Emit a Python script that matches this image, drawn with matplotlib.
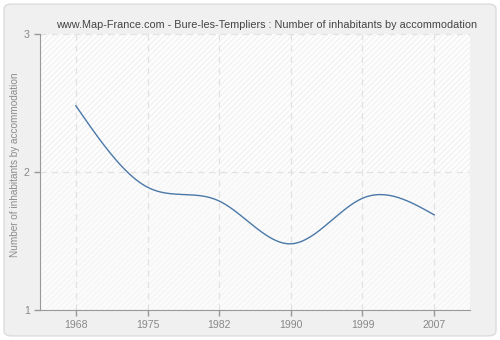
import numpy as np
import matplotlib
matplotlib.use("Agg")
import matplotlib.pyplot as plt
from matplotlib.patches import FancyBboxPatch, Rectangle

years = ["1968", "1975", "1982", "1990", "1999", "2007"]
values = [2.48, 1.89, 1.79, 1.48, 1.81, 1.69]
yticks = [1, 2, 3]

title = "www.Map-France.com - Bure-les-Templiers : Number of inhabitants by accommodation"
ylabel = "Number of inhabitants by accommodation"

plt.rcParams["font.family"] = ["Liberation Sans", "DejaVu Sans"]
plt.rcParams["hatch.linewidth"] = 0.6


def natural_spline(x, y, n=400):
    x = np.asarray(x, float)
    y = np.asarray(y, float)
    k = len(x)
    h = np.diff(x)
    A = np.zeros((k, k))
    b = np.zeros(k)
    A[0, 0] = 1
    A[-1, -1] = 1
    for i in range(1, k - 1):
        A[i, i - 1] = h[i - 1]
        A[i, i] = 2 * (h[i - 1] + h[i])
        A[i, i + 1] = h[i]
        b[i] = 3 * ((y[i + 1] - y[i]) / h[i] - (y[i] - y[i - 1]) / h[i - 1])
    c = np.linalg.solve(A, b)
    xs = np.linspace(x[0], x[-1], n)
    ys = np.empty_like(xs)
    for j, xv in enumerate(xs):
        i = min(np.searchsorted(x, xv, side="right") - 1, k - 2)
        dx = xv - x[i]
        bi = (y[i + 1] - y[i]) / h[i] - h[i] * (2 * c[i] + c[i + 1]) / 3
        di = (c[i + 1] - c[i]) / (3 * h[i])
        ys[j] = y[i] + bi * dx + c[i] * dx ** 2 + di * dx ** 3
    return xs, ys


fig = plt.figure(figsize=(5, 3.4), dpi=100)
fig.patch.set_facecolor("white")
bg = FancyBboxPatch((0.008, 0.012), 0.984, 0.976, boxstyle="round,pad=0,rounding_size=0.015",
                    transform=fig.transFigure, facecolor="#f0f0f0", edgecolor="#dcdcdc",
                    linewidth=1.0, zorder=-10)
fig.patches.append(bg)

ax = fig.add_axes([0.08, 0.088, 0.86, 0.812])
ax.set_zorder(5)
ax.set_facecolor("#fbfbfb")
x = np.arange(len(years))
ax.set_xlim(-0.5, len(years) - 0.5)
ax.set_ylim(1, 3)

# hatched backgrounds
ax.add_patch(Rectangle((-0.5, 2), len(years), 1, facecolor="#fdfdfd", edgecolor="#ededed",
                       hatch="//////", linewidth=0, zorder=0))
ax.add_patch(Rectangle((-0.5, 1), len(years), 1, facecolor="#fbfbfb", edgecolor="#f3f3f3",
                       hatch="//////", linewidth=0, zorder=0))

ax.grid(True, color="#e2e2e2", linestyle=(0, (5, 4)), linewidth=0.9, zorder=1)
ax.set_axisbelow(True)

xs, ys = natural_spline(x, values)
ax.plot(xs, ys, color="#4a78a8", linewidth=1.0, zorder=3)

ax.set_xticks(x)
ax.set_xticklabels(years)
ax.set_yticks(yticks)
ax.set_yticklabels([str(t) for t in yticks])
for s in ["top", "right"]:
    ax.spines[s].set_visible(False)
for s in ["left", "bottom"]:
    ax.spines[s].set_color("#999999")
ax.tick_params(colors="#999999", labelcolor="#888888", labelsize=7.6, length=4, width=1)
ax.set_ylabel(ylabel, color="#8c8c8c", fontsize=7.2)
ax.yaxis.set_label_coords(-0.046, 0.525)
fig.text(0.534, 0.912, title, ha="center", va="bottom", fontsize=7.8, color="#444444")

fig.savefig("out.png", dpi=100, facecolor=fig.get_facecolor())
